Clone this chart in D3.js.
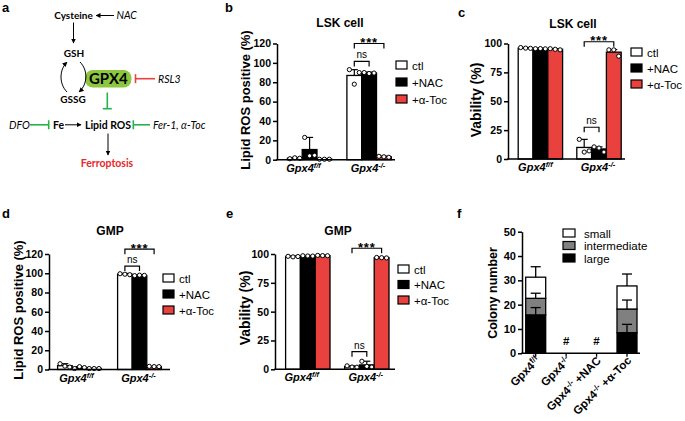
<!DOCTYPE html>
<html><head><meta charset="utf-8">
<script src="https://cdn.jsdelivr.net/npm/d3@7"></script>
<style>body{margin:0;background:#fff} svg{display:block;font-family:"Liberation Sans",Arial,sans-serif}</style>
</head><body><svg id="c" width="685" height="421"></svg>
<script>
// ---------- data ----------
const groups = ["Gpx4", "Gpx4"];
const groupSup = ["f/f", "-/-"];
const seriesNames = ["ctl", "+NAC", "+α-Toc"];
const seriesColors = ["#ffffff", "#000000", "#e8413e"];

// panel b: LSK lipid ROS
const bCtl = [1.5, 87], bNAC = [10.5, 89.5], bToc = [0.5, 3];
const bCtlErr = [2.3, 93], bNACErr = [23, 90.5], bTocErr = [0.8, 3.7];
const bCtlPts = [[1, 2, 1.5], [93, 78, 90]];
const bNACPts = [[23, 4, 4.5], [90, 89, 89.5]];
const bTocPts = [[0.5, 0.5, 0.5], [3.5, 3, 2.5]];
const bTicks = [0, 20, 40, 60, 80, 100, 120];

// panel c: LSK viability
const cCtl = [96, 10], cNAC = [95.5, 8.7], cToc = [95, 92.5];
const cCtlErr = [96.5, 17], cNACErr = [96, 10.5], cTocErr = [95.5, 94.8];
const cCtlPts = [[96.5, 96, 95.8], [17, 6, 7]];
const cNACPts = [[95.5, 95.6, 95.4], [10.5, 9.5, 6]];
const cTocPts = [[95.5, 95, 94.5], [94.5, 94.5, 89]];
const cTicks = [0, 25, 50, 75, 100];

// panel d: GMP lipid ROS
const dCtl = [4, 99], dNAC = [2, 97.5], dToc = [1, 3];
const dCtlErr = [6, 99.8], dNACErr = [3, 98], dTocErr = [1.2, 3.3];
const dCtlPts = [[6, 3.5, 2.5], [99.5, 99, 98.5]];
const dNACPts = [[1, 3, 2], [97.5, 98, 97.8]];
const dTocPts = [[1, 1, 1], [3.3, 3, 3]];
const dTicks = [0, 20, 40, 60, 80, 100, 120];

// panel e: GMP viability
const eCtl = [97.8, 2.3], eNAC = [98.3, 3.8], eToc = [98.6, 96.8];
const eCtlErr = [98.3, 3], eNACErr = [98.7, 7], eTocErr = [99, 97.2];
const eCtlPts = [[98, 97.5, 97.8], [3, 2, 1.8]];
const eNACPts = [[98.5, 98.3, 98.2], [7, 2.5, 2]];
const eTocPts = [[98.8, 98.6, 98.5], [97, 96.8, 96.6]];
const eTicks = [0, 25, 50, 75, 100];

// panel f: colony numbers (stacked)
const fCats = ["Gpx4|f/f|", "Gpx4|-/-|", "Gpx4|-/-| +NAC", "Gpx4|-/-| +α-Toc"];
const fStackNames = ["large", "intermediate", "small"];
const fStackColors = ["#000000", "#808080", "#ffffff"];
const fLarge = [15.8, 0, 0, 8.5];
const fInter = [6.8, 0, 0, 9.7];
const fSmall = [8.7, 0, 0, 9.5];
const fLargeErr = [3, 0, 0, 3.4];
const fInterErr = [2.1, 0, 0, 3.7];
const fSmallErr = [4.3, 0, 0, 4.9];
const fMarks = ["", "#", "#", ""];
const fTicks = [0, 10, 20, 30, 40, 50];

// ---------- drawing ----------
const svg = d3.select("#c");
const FONT = '"Liberation Sans",Arial,sans-serif';

function letter(t, x, y) {
  svg.append("text").attr("x", x).attr("y", y).attr("font-weight", "bold")
    .attr("font-size", 13).text(t);
}

function groupLabel(g, x, y, sup, size) {
  const t = g.append("text").attr("x", x).attr("y", y).attr("text-anchor", "middle")
    .attr("font-weight", "bold").attr("font-style", "italic").attr("font-size", size);
  t.append("tspan").text("Gpx4");
  t.append("tspan").attr("dy", -4).attr("font-size", size * 0.68).text(sup);
}

function barPanel(cfg) {
  const g = svg.append("g");
  const y = d3.scaleLinear().domain([0, cfg.yMax]).range([cfg.yBase, cfg.yTop]);
  const xg = d3.scaleOrdinal().domain([0, 1]).range(cfg.centers);
  const xs = d3.scaleBand().domain(seriesNames).range([-1.5 * cfg.bw, 1.5 * cfg.bw]);

  seriesNames.forEach((s, si) => {
    [0, 1].forEach(gi => {
      const v = cfg.means[si][gi];
      g.append("rect").attr("x", xg(gi) + xs(s)).attr("y", y(v))
        .attr("width", xs.bandwidth()).attr("height", cfg.yBase - y(v))
        .attr("fill", seriesColors[si]).attr("stroke", "#000").attr("stroke-width", 1.3);
    });
  });
  seriesNames.forEach((s, si) => {
    [0, 1].forEach(gi => {
      const v = cfg.means[si][gi], e = cfg.errs[si][gi];
      const cx = xg(gi) + xs(s) + xs.bandwidth() / 2;
      g.append("line").attr("x1", cx).attr("x2", cx).attr("y1", y(v)).attr("y2", y(e))
        .attr("stroke", "#000").attr("stroke-width", 1.2);
      g.append("line").attr("x1", cx - 3.5).attr("x2", cx + 3.5).attr("y1", y(e)).attr("y2", y(e))
        .attr("stroke", "#000").attr("stroke-width", 1.2);
    });
  });
  seriesNames.forEach((s, si) => {
    [0, 1].forEach(gi => {
      const pts = cfg.pts[si][gi];
      const cx = xg(gi) + xs(s) + xs.bandwidth() / 2;
      const sp = xs.bandwidth() / pts.length;
      pts.forEach((p, i) => {
        g.append("circle").attr("cx", cx + (i - (pts.length - 1) / 2) * sp).attr("cy", y(p))
          .attr("r", 2.1).attr("fill", "#fff").attr("stroke", "#000").attr("stroke-width", 1);
      });
    });
  });
  const ax = g.append("g").attr("transform", `translate(${cfg.x0},0)`)
    .call(d3.axisLeft(y).tickValues(cfg.ticks).tickSize(4).tickPadding(2).tickSizeOuter(0));
  ax.select(".domain").attr("stroke-width", 1.5);
  ax.selectAll(".tick line").attr("stroke-width", 1.5);
  ax.selectAll(".tick text").attr("font-family", FONT).attr("font-weight", "bold").attr("font-size", 10.5).attr("fill", "#000");
  g.append("line").attr("x1", cfg.x0 - 0.75).attr("x2", cfg.x1).attr("y1", cfg.yBase).attr("y2", cfg.yBase)
    .attr("stroke", "#000").attr("stroke-width", 1.5);
  [0, 1].forEach(gi => groupLabel(g, xg(gi) + cfg.labShift[gi], cfg.yBase + 12, groupSup[gi], 11));
  g.append("text").attr("x", cfg.titleX).attr("y", cfg.titleY).attr("text-anchor", "middle")
    .attr("font-weight", "bold").attr("font-size", 12).text(cfg.title);
  g.append("text").attr("transform", `translate(${cfg.ylabX},${cfg.ylabY}) rotate(-90)`)
    .attr("text-anchor", "middle").attr("font-weight", "bold").attr("font-size", cfg.ylabSize).text(cfg.ylabel);
  seriesNames.forEach((s, si) => {
    const ly = cfg.legY + si * cfg.legDy;
    g.append("rect").attr("x", cfg.legX).attr("y", ly).attr("width", 11).attr("height", 8)
      .attr("fill", seriesColors[si]).attr("stroke", "#000").attr("stroke-width", 1.2);
    g.append("text").attr("x", cfg.legX + 16).attr("y", ly + 8.5).attr("font-size", 11.5).text(s);
  });
  cfg.sig.forEach(sg => {
    const xa = xg(1) + xs(seriesNames[sg.a]) + xs.bandwidth() / 2;
    const xb = xg(1) + xs(seriesNames[sg.b]) + xs.bandwidth() / 2;
    const yy = y(sg.h);
    g.append("path").attr("d", `M${xa},${yy + 5}V${yy}H${xb}V${yy + 5}`)
      .attr("fill", "none").attr("stroke", "#000").attr("stroke-width", 1.2);
    if (sg.label === "ns") {
      g.append("text").attr("x", (xa + xb) / 2).attr("y", yy - 3).attr("text-anchor", "middle")
        .attr("font-size", 10).text("ns");
    } else {
      g.append("text").attr("x", (xa + xb) / 2).attr("y", yy + 3.5).attr("text-anchor", "middle")
        .attr("font-size", 13).attr("font-weight", "bold").attr("letter-spacing", 0.8).text(sg.label);
    }
  });
}

barPanel({x0: 277, x1: 395, yBase: 159.7, yTop: 43.5, yMax: 120, ticks: bTicks,
  centers: [309.6, 369.1], bw: 14.8, labShift: [-6, -1],
  means: [bCtl, bNAC, bToc], errs: [bCtlErr, bNACErr, bTocErr], pts: [bCtlPts, bNACPts, bTocPts],
  title: "LSK cell", titleX: 340, titleY: 27, ylabel: "Lipid ROS positive (%)", ylabX: 250, ylabY: 100, ylabSize: 13,
  legX: 396, legY: 61, legDy: 17,
  sig: [{a: 0, b: 2, h: 120, label: "***"}, {a: 0, b: 1, h: 101.5, label: "ns"}]});

barPanel({x0: 508, x1: 625, yBase: 159, yTop: 43.5, yMax: 100, ticks: cTicks,
  centers: [540.4, 599], bw: 14.8, labShift: [-5, -1],
  means: [cCtl, cNAC, cToc], errs: [cCtlErr, cNACErr, cTocErr], pts: [cCtlPts, cNACPts, cTocPts],
  title: "LSK cell", titleX: 573, titleY: 28, ylabel: "Vability (%)", ylabX: 481, ylabY: 100, ylabSize: 14,
  legX: 631, legY: 48, legDy: 16,
  sig: [{a: 0, b: 2, h: 101.5, label: "***"}, {a: 0, b: 1, h: 27.5, label: "ns"}]});

barPanel({x0: 49, x1: 170, yBase: 369.5, yTop: 254, yMax: 120, ticks: dTicks,
  centers: [79.5, 139.5], bw: 14.6, labShift: [-3, -1],
  means: [dCtl, dNAC, dToc], errs: [dCtlErr, dNACErr, dTocErr], pts: [dCtlPts, dNACPts, dTocPts],
  title: "GMP", titleX: 110, titleY: 235, ylabel: "Lipid ROS positive (%)", ylabX: 23, ylabY: 310, ylabSize: 13,
  legX: 163, legY: 274, legDy: 16,
  sig: [{a: 0, b: 2, h: 125, label: "***"}, {a: 0, b: 1, h: 107.5, label: "ns"}]});

barPanel({x0: 275, x1: 395, yBase: 369.3, yTop: 254, yMax: 100, ticks: eTicks,
  centers: [307.8, 366.8], bw: 14.8, labShift: [-6, -1],
  means: [eCtl, eNAC, eToc], errs: [eCtlErr, eNACErr, eTocErr], pts: [eCtlPts, eNACPts, eTocPts],
  title: "GMP", titleX: 338, titleY: 235, ylabel: "Vability (%)", ylabX: 250, ylabY: 308, ylabSize: 14,
  legX: 398, legY: 265, legDy: 15.5,
  sig: [{a: 0, b: 2, h: 105, label: "***"}, {a: 0, b: 1, h: 15.3, label: "ns"}]});

// ---------- panel f ----------
(function () {
  const g = svg.append("g");
  const x0 = 522, x1 = 640, yBase = 353.3, yTop = 231.7;
  const y = d3.scaleLinear().domain([0, 50]).range([yBase, yTop]);
  const xc = d3.scalePoint().domain(fCats).range([535.7, 627]);
  const bw = 20;
  const stacks = [fLarge, fInter, fSmall];
  const errs = [fLargeErr, fInterErr, fSmallErr];
  fCats.forEach((c, ci) => {
    let cum = 0;
    stacks.forEach((arr, k) => {
      const v = arr[ci];
      if (v > 0) {
        g.append("rect").attr("x", xc(c) - bw / 2).attr("y", y(cum + v)).attr("width", bw)
          .attr("height", y(cum) - y(cum + v)).attr("fill", fStackColors[k])
          .attr("stroke", "#000").attr("stroke-width", 1.3);
      }
      cum += v;
    });
  });
  fCats.forEach((c, ci) => {
    let cum = 0;
    stacks.forEach((arr, k) => {
      const v = arr[ci];
      cum += v;
      const e = errs[k][ci];
      if (e > 0) {
        g.append("line").attr("x1", xc(c)).attr("x2", xc(c)).attr("y1", y(cum)).attr("y2", y(cum + e))
          .attr("stroke", "#000").attr("stroke-width", 1.3);
        g.append("line").attr("x1", xc(c) - 5).attr("x2", xc(c) + 5).attr("y1", y(cum + e)).attr("y2", y(cum + e))
          .attr("stroke", "#000").attr("stroke-width", 1.3);
      }
    });
    if (fMarks[ci]) {
      g.append("text").attr("x", xc(c)).attr("y", yBase - 8).attr("text-anchor", "middle")
        .attr("font-size", 11.5).attr("font-weight", "bold").text(fMarks[ci]);
    }
  });
  const ax = g.append("g").attr("transform", `translate(${x0},0)`)
    .call(d3.axisLeft(y).tickValues(fTicks).tickSize(4).tickPadding(2).tickSizeOuter(0));
  ax.select(".domain").attr("stroke-width", 1.5);
  ax.selectAll(".tick line").attr("stroke-width", 1.5);
  ax.selectAll(".tick text").attr("font-family", FONT).attr("font-weight", "bold").attr("font-size", 11).attr("fill", "#000");
  g.append("line").attr("x1", x0 - 0.75).attr("x2", x1).attr("y1", yBase).attr("y2", yBase)
    .attr("stroke", "#000").attr("stroke-width", 1.5);
  fCats.forEach(c => {
    g.append("line").attr("x1", xc(c)).attr("x2", xc(c)).attr("y1", yBase).attr("y2", yBase + 3.5)
      .attr("stroke", "#000").attr("stroke-width", 1.3);
    const parts = c.split("|");
    const t = g.append("text").attr("transform", `translate(${xc(c) + 5},${yBase + 8}) rotate(-45)`)
      .attr("text-anchor", "end").attr("font-weight", "bold").attr("font-size", 11.5);
    t.append("tspan").text(parts[0]);
    t.append("tspan").attr("dy", -4).attr("font-size", 8).text(parts[1]);
    if (parts[2]) t.append("tspan").attr("dy", 4).text(parts[2]);
  });
  g.append("text").attr("transform", "translate(497,293) rotate(-90)").attr("text-anchor", "middle")
    .attr("font-weight", "bold").attr("font-size", 12.5).text("Colony number");
  const legOrder = [2, 1, 0];
  legOrder.forEach((k, i) => {
    const ly = 229 + i * 12.5;
    g.append("rect").attr("x", 563).attr("y", ly).attr("width", 12).attr("height", 8)
      .attr("fill", fStackColors[k]).attr("stroke", "#000").attr("stroke-width", 1.2);
    g.append("text").attr("x", 584).attr("y", ly + 8.5).attr("font-size", 11.5).text(fStackNames[k]);
  });
})();

// ---------- panel a: pathway diagram ----------
(function () {
  const g = svg.append("g").attr("font-family", "Lato, 'Open Sans', sans-serif");
  const green = "#27b34b", red = "#e8413e";
  const defs = svg.append("defs");
  defs.append("marker").attr("id", "ah").attr("viewBox", "0 0 10 10").attr("refX", 9).attr("refY", 5)
    .attr("markerWidth", 5).attr("markerHeight", 5).attr("orient", "auto")
    .append("path").attr("d", "M0,0L10,5L0,10z").attr("fill", "#000");
  const nodes = [
    {t: "Cysteine", x: 73.5, y: 19, w: "bold", s: 10, a: "middle", c: "#000"},
    {t: "NAC", x: 116.5, y: 19, st: "italic", s: 10.5, a: "start", c: "#000"},
    {t: "GSH", x: 74, y: 57, w: "bold", s: 10, a: "middle", c: "#000"},
    {t: "GSSG", x: 73, y: 103, w: "bold", s: 10, a: "middle", c: "#000"},
    {t: "RSL3", x: 158, y: 82.5, st: "italic", s: 10.5, a: "start", c: "#000"},
    {t: "DFO", x: 9, y: 128.5, st: "italic", s: 10.5, a: "start", c: "#000"},
    {t: "Fe", x: 53, y: 128.5, w: "bold", s: 10.5, a: "start", c: "#000"},
    {t: "Lipid ROS", x: 108, y: 128.5, w: "bold", s: 10.5, a: "middle", c: "#000"},
    {t: "Fer-1, α-Toc", x: 153, y: 128.5, st: "italic", s: 10.5, a: "start", c: "#000"},
    {t: "Ferroptosis", x: 107, y: 166.5, w: "bold", s: 10.5, a: "middle", c: "#e8262b"}
  ];
  g.append("rect").attr("x", 85).attr("y", 70).attr("width", 46.5).attr("height", 17.5).attr("rx", 8)
    .attr("fill", "#8dc63f");
  g.append("text").attr("x", 108.3).attr("y", 84).attr("text-anchor", "middle").attr("font-weight", "bold")
    .attr("font-size", 15).text("GPX4");
  nodes.forEach(n => {
    g.append("text").attr("x", n.x).attr("y", n.y).attr("text-anchor", n.a)
      .attr("font-weight", n.w || "normal").attr("font-style", n.st || "normal")
      .attr("font-size", n.s).attr("fill", n.c).text(n.t);
  });
  const arrows = [
    [114, 15.5, 96, 15.5], [73.5, 22.5, 73.5, 43], [65, 124.8, 81, 124.8], [108, 133.5, 108, 155]
  ];
  arrows.forEach(a => g.append("line").attr("x1", a[0]).attr("y1", a[1]).attr("x2", a[2]).attr("y2", a[3])
    .attr("stroke", "#000").attr("stroke-width", 1).attr("marker-end", "url(#ah)"));
  g.append("path").attr("d", "M67,92 C59,84 59,70 67,62").attr("fill", "none").attr("stroke", "#000")
    .attr("stroke-width", 1).attr("marker-end", "url(#ah)");
  g.append("path").attr("d", "M80,62 C88,70 88,84 79,92").attr("fill", "none").attr("stroke", "#000")
    .attr("stroke-width", 1).attr("marker-end", "url(#ah)");
  const inh = [
    {x1: 155, y1: 78.7, x2: 135.5, y2: 78.7, c: red},
    {x1: 107.3, y1: 92.5, x2: 107.3, y2: 108.7, c: green},
    {x1: 30, y1: 124.8, x2: 48.7, y2: 124.8, c: green},
    {x1: 150, y1: 124.8, x2: 133.3, y2: 124.8, c: green}
  ];
  inh.forEach(d => {
    g.append("line").attr("x1", d.x1).attr("y1", d.y1).attr("x2", d.x2).attr("y2", d.y2)
      .attr("stroke", d.c).attr("stroke-width", 1.6);
    if (d.y1 === d.y2) {
      g.append("line").attr("x1", d.x2).attr("x2", d.x2).attr("y1", d.y2 - 4.5).attr("y2", d.y2 + 4.5)
        .attr("stroke", d.c).attr("stroke-width", 1.6);
    } else {
      g.append("line").attr("x1", d.x2 - 4.5).attr("x2", d.x2 + 4.5).attr("y1", d.y2).attr("y2", d.y2)
        .attr("stroke", d.c).attr("stroke-width", 1.6);
    }
  });
})();

letter("a", 2, 12);
letter("b", 225, 12);
letter("c", 458, 17);
letter("d", 2, 218);
letter("e", 226, 218);
letter("f", 457, 218);
</script></body></html>
